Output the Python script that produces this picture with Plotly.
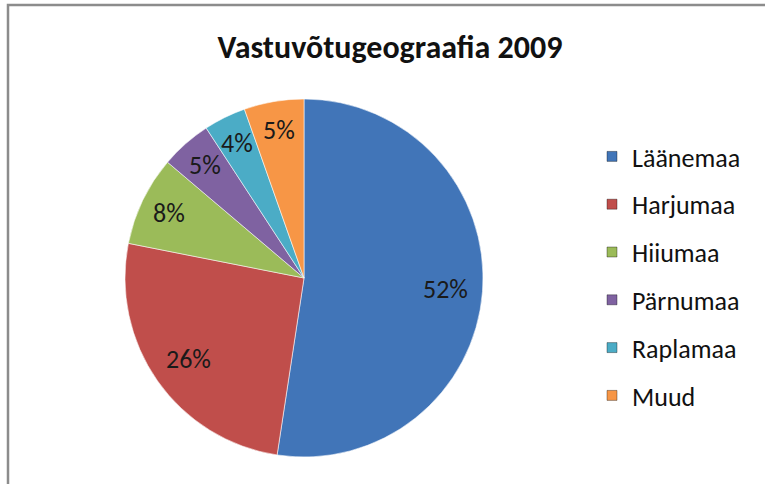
import math
import plotly.graph_objects as go

# ---- data ----
regions = ["Läänemaa", "Harjumaa", "Hiiumaa", "Pärnumaa", "Raplamaa", "Muud"]
shares = [52.4, 25.7, 8.1, 4.6, 3.8, 5.4]
colors = ["#4175B8", "#C04E4B", "#9BBB59", "#7F62A1", "#4BACC6", "#F79646"]
title_text = "Vastuvõtugeograafia 2009"

FONT = "Carlito, 'Liberation Sans Narrow', 'DejaVu Sans Condensed', sans-serif"
W, H = 765, 484

# pie box in pixels
px0, px1, py0, py1 = 125, 483, 99, 457
dom_x = [px0 / W, px1 / W]
dom_y = [1 - py1 / H, 1 - py0 / H]

fig = go.Figure()

fig.add_trace(go.Pie(
    labels=regions, values=shares, sort=False, direction="clockwise", rotation=0,
    marker=dict(colors=colors, line=dict(color="rgba(255,255,255,0.55)", width=1)),
    textinfo="none", showlegend=False, domain=dict(x=dom_x, y=dom_y),
    hoverinfo="label+percent",
))

# percentage labels placed at each slice's mid-angle near the rim
total = sum(shares)
cx, cy = (dom_x[0] + dom_x[1]) / 2, (dom_y[0] + dom_y[1]) / 2
rx, ry = (dom_x[1] - dom_x[0]) / 2, (dom_y[1] - dom_y[0]) / 2
annotations = []
cum = 0.0
for s in shares:
    mid = (cum + s / 2) / total * 2 * math.pi
    cum += s
    f = 0.79 if s / total > 0.2 else 0.84
    annotations.append(dict(
        x=cx + f * rx * math.sin(mid), y=cy + f * ry * math.cos(mid),
        xref="paper", yref="paper", showarrow=False,
        text=f"{round(s / total * 100)}%",
        font=dict(family=FONT, size=26, color="#1a1a1a"),
        xanchor="center", yanchor="middle",
    ))

# legend entries
for name, col in zip(regions, colors):
    fig.add_trace(go.Scatter(
        x=[None], y=[None], mode="markers", name=name, legendgroup=name,
        marker=dict(symbol="square", size=10, color=col,
                    line=dict(color="rgba(0,0,0,0.35)", width=1)),
    ))

fig.update_layout(
    width=W, height=H,
    margin=dict(l=0, r=0, t=0, b=0),
    paper_bgcolor="white", plot_bgcolor="white",
    xaxis=dict(visible=False), yaxis=dict(visible=False),
    title=dict(text="<b>" + title_text + "</b>", x=390 / W, y=1 - 47 / H,
               xanchor="center", yanchor="middle",
               font=dict(family=FONT, size=32, color="#111111")),
    legend=dict(x=592 / W, y=1 - 133 / H, xanchor="left", yanchor="top",
                font=dict(family=FONT, size=26, color="#111111"),
                tracegroupgap=11, bgcolor="rgba(0,0,0,0)"),
    annotations=annotations,
    shapes=[dict(type="rect", xref="paper", yref="paper",
                 x0=8 / W, x1=1.2, y0=-0.2, y1=1 - 5 / H,
                 line=dict(color="#8c8c8c", width=2.5), layer="above")],
)

fig.write_html("out.html", config={"displayModeBar": False},
               post_script="document.body.style.margin='0';document.body.style.overflow='hidden';")
